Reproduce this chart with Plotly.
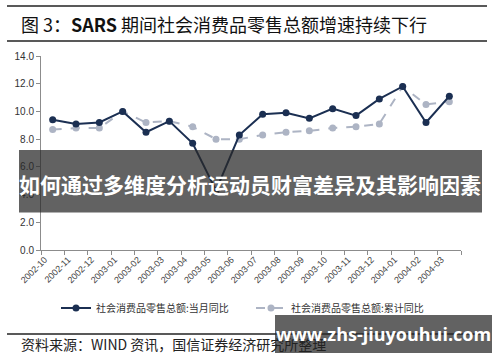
import plotly.graph_objects as go

# ---- data ----
months = ["2002-10", "2002-11", "2002-12", "2003-01", "2003-02", "2003-03",
          "2003-04", "2003-05", "2003-06", "2003-07", "2003-08", "2003-09",
          "2003-10", "2003-11", "2003-12", "2004-01", "2004-02", "2004-03"]
monthly_yoy = [9.4, 9.1, 9.2, 10.0, 8.5, 9.3, 7.7, 4.3, 8.3, 9.8, 9.9, 9.5,
               10.2, 9.7, 10.9, 11.8, 9.2, 11.1]
cumulative_yoy = [8.7, 8.8, 8.8, 10.0, 9.2, 9.3, 8.9, 8.0, 8.0, 8.3, 8.5, 8.6,
                  8.8, 8.9, 9.1, 11.8, 10.5, 10.7]
y_ticks = [0, 2, 4, 6, 8, 10, 12, 14]
name_monthly = "社会消费品零售总额:当月同比"
name_cum = "社会消费品零售总额:累计同比"

W, H = 500, 362
L, R, T, B = 41, 461, 56, 250  # plot area in px


def px(xp):
    return (xp - L) / (R - L)


def py(yp):
    return (B - yp) / (B - T)


CJK = "Noto Sans CJK SC"

fig = go.Figure()
fig.add_trace(go.Scatter(
    x=months, y=cumulative_yoy, name=name_cum, mode="lines+markers",
    line=dict(color="#ADB4C4", width=2, dash="dash"),
    marker=dict(color="#ADB4C4", size=7),
))
fig.add_trace(go.Scatter(
    x=months, y=monthly_yoy, name=name_monthly, mode="lines+markers",
    line=dict(color="#1B2F52", width=2),
    marker=dict(color="#1B2F52", size=7),
))

shapes = []
# header / footer rules
for yline in (6, 41, 334):
    shapes.append(dict(type="line", xref="paper", yref="paper",
                       x0=px(7), x1=px(487), y0=py(yline), y1=py(yline),
                       line=dict(color="#222222", width=1.3)))
# overlay band
shapes.append(dict(type="rect", xref="paper", yref="paper", layer="above",
                   x0=px(19), x1=px(482), y0=py(150), y1=py(212.5),
                   fillcolor="rgba(40,40,40,0.73)", line=dict(width=0)))
# watermark box
shapes.append(dict(type="rect", xref="paper", yref="paper", layer="above",
                   x0=px(275), x1=px(492), y0=py(315), y1=py(353),
                   fillcolor="rgba(40,40,40,0.73)", line=dict(width=0)))

annotations = [
    dict(text="图 3：<b>SARS</b> 期间社会消费品零售总额增速持续下行",
         xref="paper", yref="paper", x=px(19), y=py(24), xanchor="left",
         yanchor="middle", showarrow=False,
         font=dict(family=CJK, size=18, color="#111111")),
    dict(text="资料来源：WIND 资讯，国信证券经济研究所整理",
         xref="paper", yref="paper", x=px(19), y=py(344), xanchor="left",
         yanchor="middle", showarrow=False,
         font=dict(family=CJK, size=14, color="#222222")),
    dict(text="<b>如何通过多维度分析运动员财富差异及其影响因素</b>",
         xref="paper", yref="paper", x=px(250), y=py(184), xanchor="center",
         yanchor="middle", showarrow=False,
         font=dict(family=CJK, size=21, color="#FFFFFF")),
    dict(text="<b>www.zhs-jiuyouhui.com</b>",
         xref="paper", yref="paper", x=px(383), y=py(334), xanchor="center",
         yanchor="middle", showarrow=False,
         font=dict(family="Open Sans", size=18, color="#FFFFFF")),
]

fig.update_layout(
    width=W, height=H,
    margin=dict(l=L, r=W - R, t=T, b=H - B),
    paper_bgcolor="white", plot_bgcolor="white",
    showlegend=True,
    legend=dict(orientation="h", x=px(56), y=py(308), xanchor="left",
                yanchor="middle", traceorder="reversed",
                font=dict(family=CJK, size=10, color="#333333"),
                entrywidth=150, bgcolor="rgba(0,0,0,0)"),
    shapes=shapes, annotations=annotations,
    xaxis=dict(type="category", showgrid=False, showline=True,
               linecolor="#8C8C8C", linewidth=1, ticks="outside",
               tickson="boundaries", ticklen=4, tickcolor="#8C8C8C",
               tickangle=-45, ticklabelshift=-8,
               tickfont=dict(family="Liberation Sans", size=9, color="#444444"),
               range=[-0.5, len(months) - 0.5]),
    yaxis=dict(range=[0, 14], tickvals=y_ticks,
               ticktext=[f"{v:.1f}" for v in y_ticks],
               showgrid=False, showline=True, linecolor="#8C8C8C",
               linewidth=1, ticks="outside", ticklen=4, tickcolor="#8C8C8C",
               zeroline=False,
               tickfont=dict(family="Liberation Sans", size=10, color="#333333")),
)

fig.write_html("out.html")
